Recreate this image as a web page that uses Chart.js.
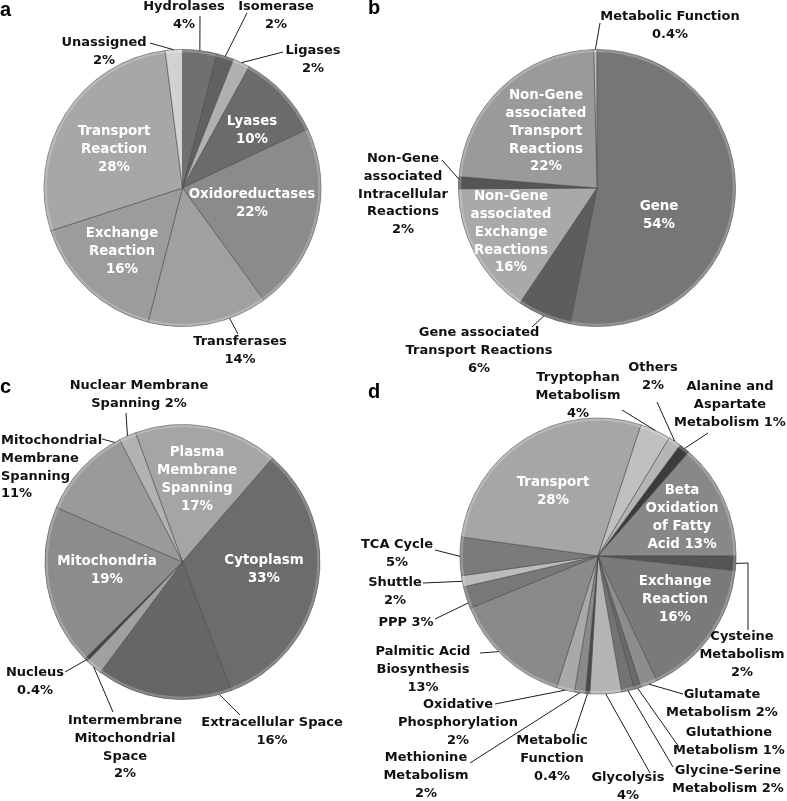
<!DOCTYPE html>
<html lang="en">
<head>
<meta charset="UTF-8">
<title>Reaction distribution pies</title>
<script src="https://cdn.jsdelivr.net/npm/chart.js@4.4.0/dist/chart.umd.min.js"></script>
<style>
  html, body { margin: 0; padding: 0; background: #fff; }
  #wrap { position: relative; width: 787px; height: 801px; }
  #wrap canvas { position: absolute; left: 0; top: 0; }
</style>
</head>
<body>
<div id="wrap">
  <canvas id="pieA" width="787" height="801"></canvas>
  <canvas id="pieB" width="787" height="801"></canvas>
  <canvas id="pieC" width="787" height="801"></canvas>
  <canvas id="pieD" width="787" height="801"></canvas>
</div>
<script>
// ---- panel a: reactions by enzyme class ----
const aLabels = ['Hydrolases', 'Isomerase', 'Ligases', 'Lyases', 'Oxidoreductases',
                 'Transferases', 'Exchange Reaction', 'Transport Reaction', 'Unassigned'];
const aValues = [4, 2, 2, 10, 22, 14, 16, 28, 2];
const aText = ['Hydrolases\n4%', 'Isomerase\n2%', 'Ligases\n2%', 'Lyases\n10%', 'Oxidoreductases\n22%',
               'Transferases\n14%', 'Exchange\nReaction\n16%', 'Transport\nReaction\n28%', 'Unassigned\n2%'];

// ---- panel b: gene association ----
const bLabels = ['Metabolic Function', 'Gene', 'Gene associated Transport Reactions',
                 'Non-Gene associated Exchange Reactions', 'Non-Gene associated Intracellular Reactions',
                 'Non-Gene associated Transport Reactions'];
const bValues = [0.4, 53.1, 6.3, 15.5, 1.4, 23.3];
const bText = ['Metabolic Function\n0.4%', 'Gene\n54%', 'Gene associated\nTransport Reactions\n6%',
               'Non-Gene\nassociated\nExchange\nReactions\n16%', 'Non-Gene\nassociated\nIntracellular\nReactions\n2%',
               'Non-Gene\nassociated\nTransport\nReactions\n22%'];

// ---- panel c: compartments ----
const cLabels = ['Plasma Membrane Spanning', 'Cytoplasm', 'Extracellular Space',
                 'Intermembrane Mitochondrial Space', 'Nucleus', 'Mitochondria',
                 'Mitochondrial Membrane Spanning', 'Nuclear Membrane Spanning'];
const cValues = [17, 33, 16, 2, 0.4, 19, 11, 2];
const cText = ['Plasma\nMembrane\nSpanning\n17%', 'Cytoplasm\n33%', 'Extracellular Space\n16%',
               'Intermembrane\nMitochondrial\nSpace\n2%', 'Nucleus\n0.4%', 'Mitochondria\n19%',
               'Mitochondrial\nMembrane\nSpanning\n11%', 'Nuclear Membrane\nSpanning 2%'];

// ---- panel d: subsystems ----
const dLabels = ['Alanine and Aspartate Metabolism', 'Beta Oxidation of Fatty Acid', 'Cysteine Metabolism',
                 'Exchange Reaction', 'Glutamate Metabolism', 'Glutathione Metabolism',
                 'Glycine-Serine Metabolism', 'Glycolysis', 'Metabolic Function', 'Methionine Metabolism',
                 'Oxidative Phosphorylation', 'Palmitic Acid Biosynthesis', 'PPP', 'Shuttle', 'TCA Cycle',
                 'Transport', 'Tryptophan Metabolism', 'Others'];
const dValues = [1.3, 13.6, 1.7, 16.3, 2.0, 0.8, 1.5, 3.7, 0.5, 1.3, 2.1, 14.0, 2.6, 1.3, 4.5, 27.9, 3.6, 1.5];
const dText = ['Alanine and\nAspartate\nMetabolism 1%', 'Beta\nOxidation\nof Fatty\nAcid 13%',
               'Cysteine\nMetabolism\n2%', 'Exchange\nReaction\n16%', 'Glutamate\nMetabolism 2%',
               'Glutathione\nMetabolism 1%', 'Glycine-Serine\nMetabolism 2%', 'Glycolysis\n4%',
               'Metabolic\nFunction\n0.4%', 'Methionine\nMetabolism\n2%', 'Oxidative\nPhosphorylation\n2%',
               'Palmitic Acid\nBiosynthesis\n13%', 'PPP 3%', 'Shuttle\n2%', 'TCA Cycle\n5%',
               'Transport\n28%', 'Tryptophan\nMetabolism\n4%', 'Others\n2%'];

// grey fills, one per slice
const aColors = ['#707070', '#616161', '#b0b0b0', '#6b6b6b', '#8b8b8b', '#a0a0a0', '#9c9c9c', '#a7a7a7', '#d2d2d2'];
const bColors = ['#bdbdbd', '#767676', '#5d5d5d', '#a9a9a9', '#555555', '#9a9a9a'];
const cColors = ['#a5a5a5', '#6c6c6c', '#666666', '#a0a0a0', '#444444', '#8c8c8c', '#9a9a9a', '#b2b2b2'];
const dColors = ['#3c3c3c', '#888888', '#555555', '#7a7a7a', '#8d8d8d', '#6a6a6a', '#737373', '#b4b4b4',
                 '#4a4a4a', '#8a8a8a', '#a9a9a9', '#8a8a8a', '#787878', '#bcbcbc', '#7b7b7b', '#a6a6a6',
                 '#c0c0c0', '#b5b5b5'];

// label placement (page pixels); "from" is where the leader leaves the text,
// the other end is found on the slice rim at fraction t of the slice
const aLayout = [
  { x: 184, y: 7, from: [200, 16] },
  { x: 276, y: 7, from: [247, 13] },
  { x: 313, y: 51, from: [283, 52] },
  { x: 252, y: 122, inside: true },
  { x: 252, y: 195, inside: true },
  { x: 240, y: 342, from: [238, 334], t: 0.32 },
  { x: 122, y: 234, inside: true },
  { x: 114, y: 132, inside: true },
  { x: 104, y: 43, from: [150, 43] }
];
const bLayout = [
  { x: 670, y: 17, from: [600, 23] },
  { x: 659, y: 207, inside: true },
  { x: 479, y: 333, from: [532, 327] },
  { x: 511, y: 197, inside: true },
  { x: 403, y: 159, from: [442, 160], t: 0.8 },
  { x: 546, y: 96, inside: true }
];
const cLayout = [
  { x: 197, y: 453, inside: true },
  { x: 264, y: 561, inside: true },
  { x: 272, y: 723, from: [240, 715], t: 0.09 },
  { x: 125, y: 721, from: [113, 712] },
  { x: 35, y: 673, from: [65, 672] },
  { x: 107, y: 562, inside: true },
  { x: 1, y: 441, align: 'left', from: [102, 439], t: 0.94 },
  { x: 139, y: 386, from: [126, 413] }
];
const dLayout = [
  { x: 730, y: 387, from: [708, 433] },
  { x: 682, y: 491, inside: true },
  { x: 742, y: 637, from: [748, 630], via: [[748, 563]] },
  { x: 675, y: 582, inside: true },
  { x: 722, y: 695, from: [683, 694] },
  { x: 729, y: 733, from: [679, 747] },
  { x: 728, y: 771, from: [673, 767] },
  { x: 628, y: 778, from: [650, 773] },
  { x: 552, y: 741, from: [573, 737] },
  { x: 426, y: 758, from: [470, 763] },
  { x: 458, y: 705, from: [495, 704] },
  { x: 423, y: 652, from: [480, 653], t: 0.57 },
  { x: 406, y: 623, from: [435, 619], t: 0.25 },
  { x: 395, y: 583, from: [423, 583] },
  { x: 397, y: 545, from: [435, 550] },
  { x: 553, y: 483, inside: true },
  { x: 578, y: 378, from: [622, 410] },
  { x: 653, y: 368, from: [657, 402] }
];

const W = 787, H = 801;
const LINE = 17.7;

// draws a soft rim, slice texts, leader lines and the panel letter
const sliceLabels = {
  id: 'sliceLabels',
  afterDatasetsDraw(chart, args, opts) {
    const ctx = chart.ctx;
    const arcs = chart.getDatasetMeta(0).data;
    ctx.save();

    // light bevel along the outer edge, like the original's soft 3D look
    const c = arcs[0].getProps(['x', 'y', 'outerRadius'], true);
    ctx.beginPath();
    ctx.arc(c.x, c.y, c.outerRadius - 1.5, 0, Math.PI * 2);
    ctx.strokeStyle = 'rgba(255,255,255,0.22)';
    ctx.lineWidth = 2.5;
    ctx.stroke();

    opts.layout.forEach((l, i) => {
      if (l.from) {
        const p = arcs[i].getProps(['x', 'y', 'startAngle', 'endAngle', 'outerRadius'], true);
        const t = l.t === undefined ? 0.5 : l.t;
        const ang = p.startAngle + t * (p.endAngle - p.startAngle);
        ctx.beginPath();
        ctx.moveTo(l.from[0], l.from[1]);
        (l.via || []).forEach(v => ctx.lineTo(v[0], v[1]));
        ctx.lineTo(p.x + Math.cos(ang) * p.outerRadius, p.y + Math.sin(ang) * p.outerRadius);
        ctx.strokeStyle = '#1c1c1c';
        ctx.lineWidth = 1;
        ctx.stroke();
      }
    });
    ctx.textBaseline = 'middle';
    opts.layout.forEach((l, i) => {
      ctx.font = l.inside ? 'bold 13.4px "DejaVu Sans"' : 'bold 13px "DejaVu Sans"';
      ctx.fillStyle = l.inside ? '#ffffff' : '#111111';
      ctx.textAlign = l.align || 'center';
      opts.texts[i].split('\n').forEach((line, k) => ctx.fillText(line, l.x, l.y + k * LINE));
    });
    ctx.font = 'bold 20px "Liberation Sans", Arial, sans-serif';
    ctx.textAlign = 'left';
    ctx.textBaseline = 'alphabetic';
    ctx.fillStyle = '#000';
    ctx.fillText(opts.panel.text, opts.panel.x, opts.panel.y);
    ctx.restore();
  }
};

function makePie(id, labels, values, colors, rotation, cx, cy, r, texts, layout, panel) {
  new Chart(document.getElementById(id), {
    type: 'pie',
    data: {
      labels: labels,
      datasets: [{
        data: values,
        backgroundColor: colors,
        borderColor: 'rgba(70,70,70,0.55)',
        borderWidth: 1
      }]
    },
    options: {
      responsive: false,
      animation: false,
      events: [],
      rotation: rotation,
      layout: {
        padding: {
          left: cx - r - 0.5, top: cy - r - 0.5,
          right: W - cx - r - 0.5, bottom: H - cy - r - 0.5
        }
      },
      plugins: {
        legend: { display: false },
        tooltip: { enabled: false },
        sliceLabels: { texts: texts, layout: layout, panel: panel }
      }
    },
    plugins: [sliceLabels]
  });
}

makePie('pieA', aLabels, aValues, aColors, 0, 182.5, 188, 138.5, aText, aLayout, { text: 'a', x: 0, y: 16 });
makePie('pieB', bLabels, bValues, bColors, -1.4, 597, 188, 138.5, bText, bLayout, { text: 'b', x: 368, y: 14 });
makePie('pieC', cLabels, cValues, cColors, -20, 182.5, 562, 137.5, cText, cLayout, { text: 'c', x: 0, y: 393 });
makePie('pieD', dLabels, dValues, dColors, 36.5, 598, 556, 138, dText, dLayout, { text: 'd', x: 368, y: 398 });
</script>
</body>
</html>
